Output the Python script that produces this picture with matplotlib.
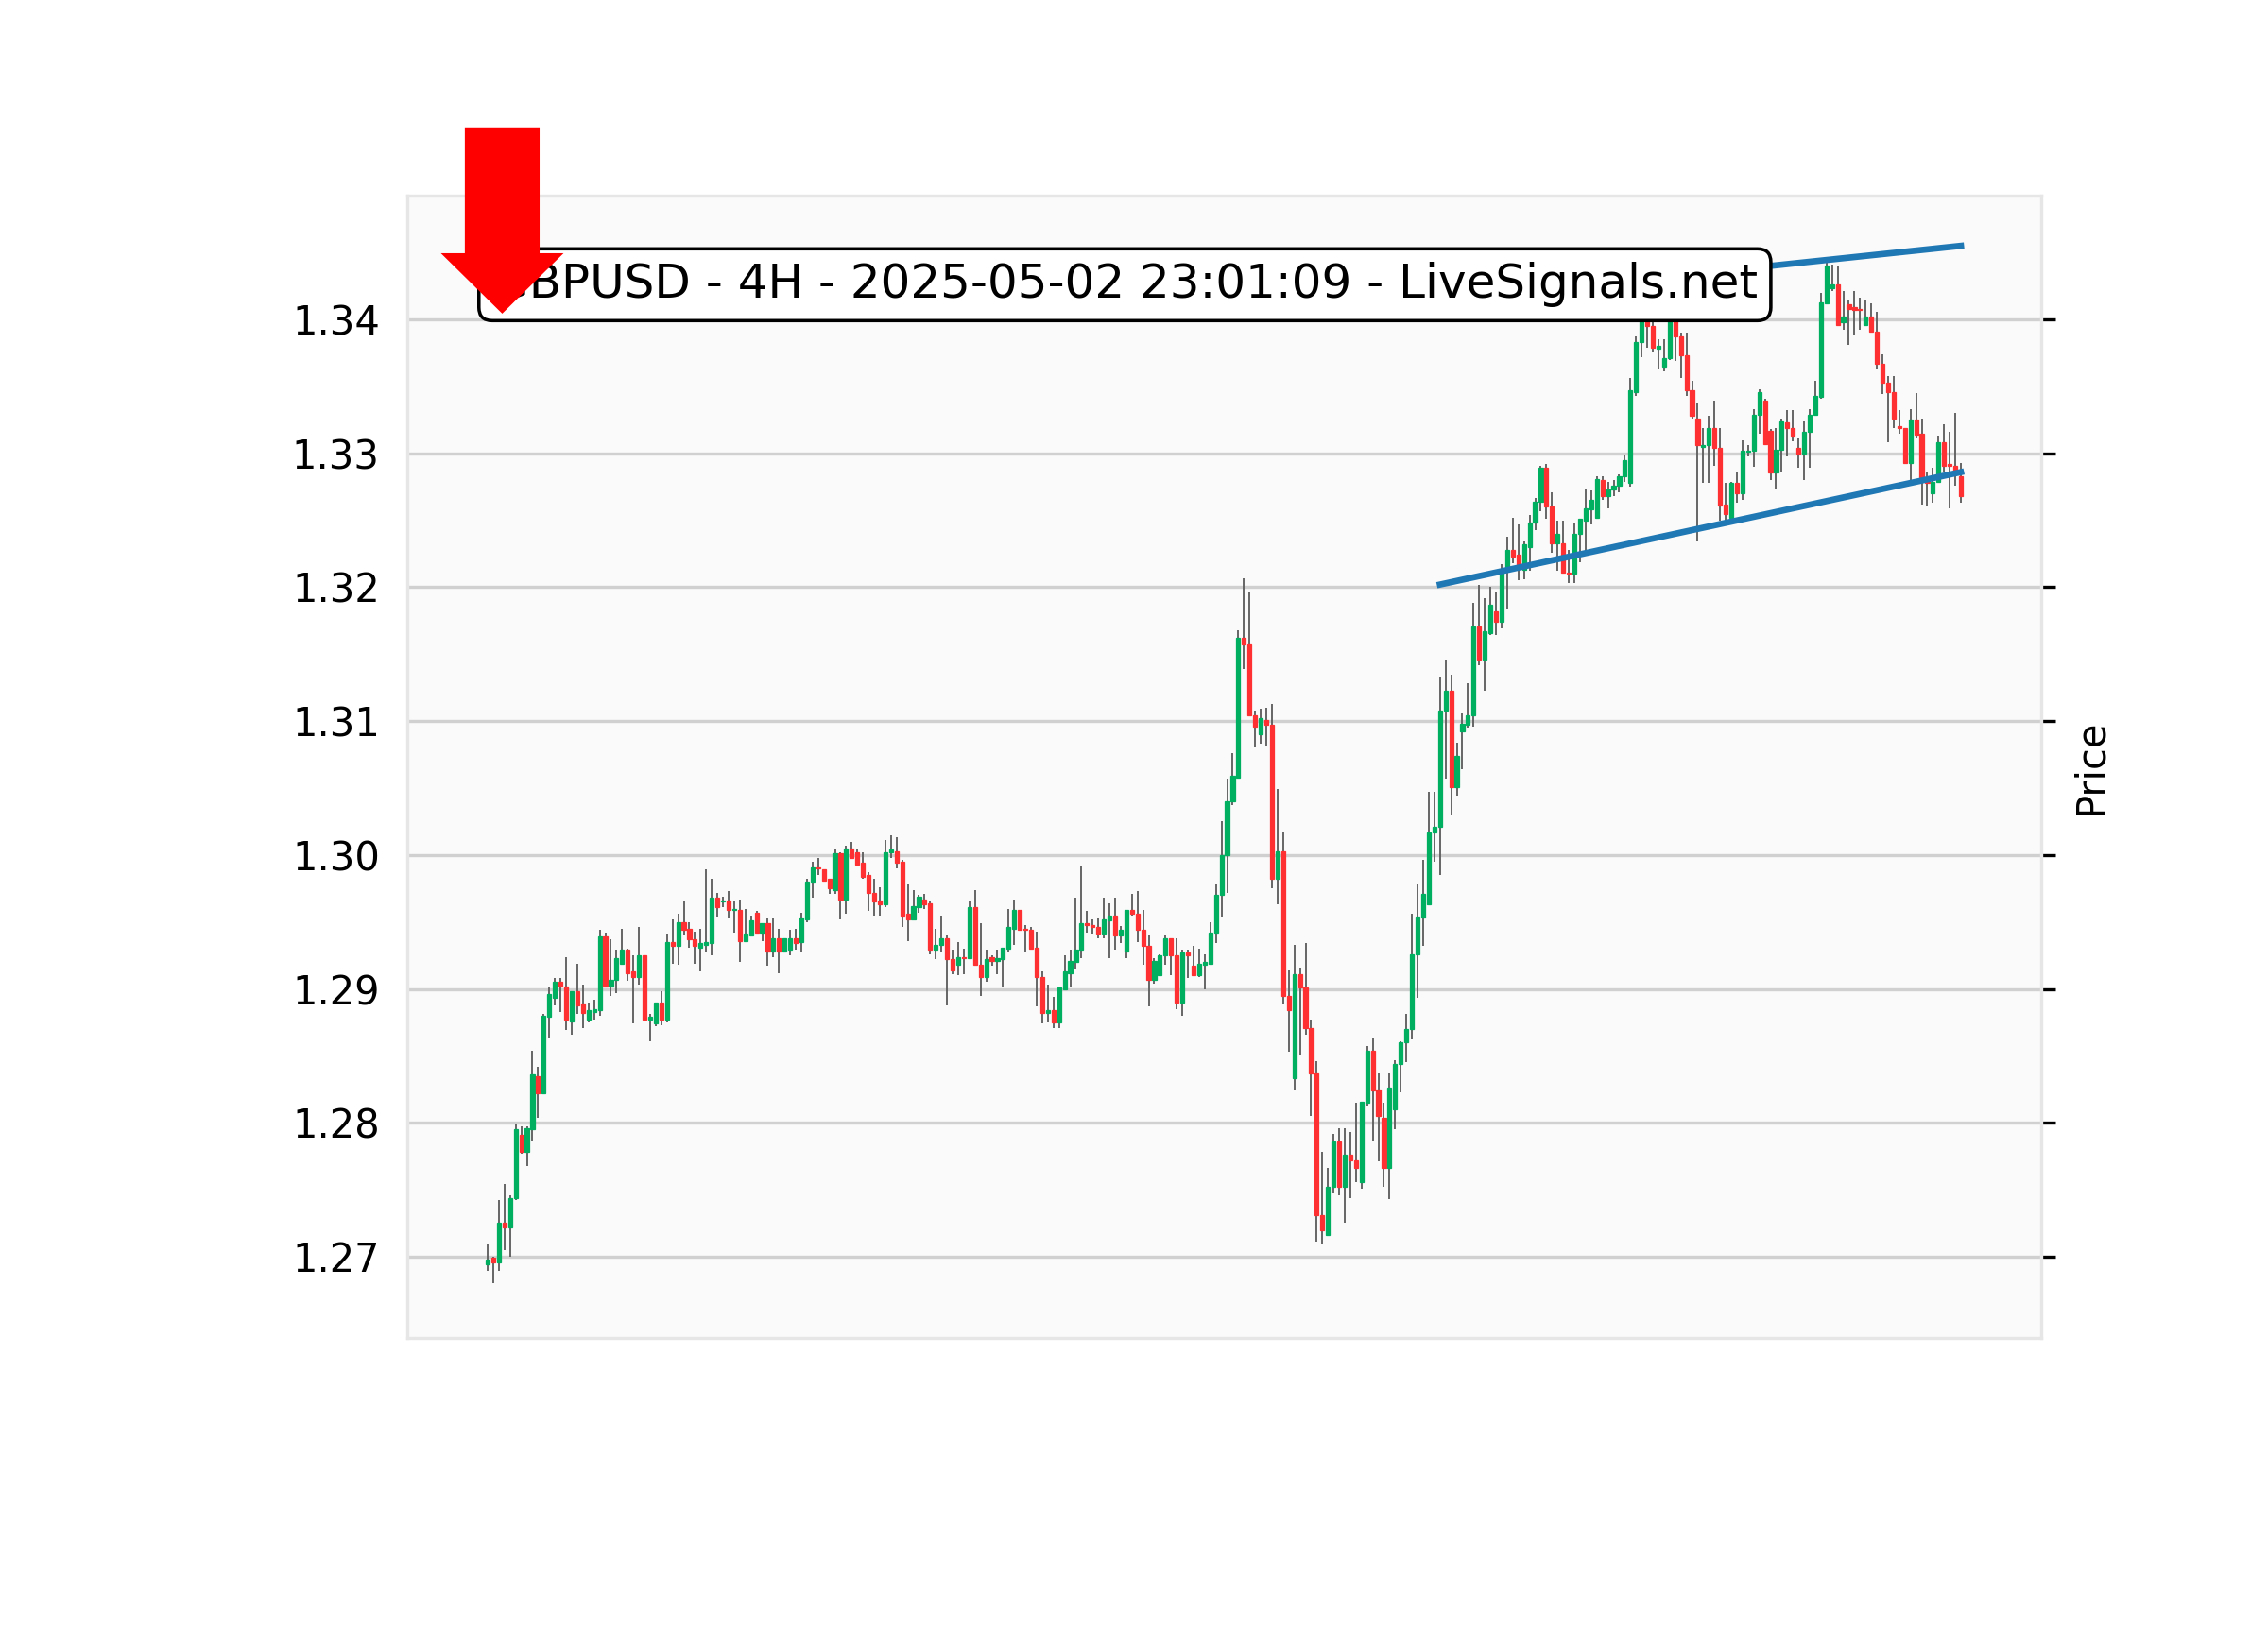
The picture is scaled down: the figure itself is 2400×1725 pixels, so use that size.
import matplotlib
matplotlib.use('Agg')
import matplotlib.pyplot as plt
import numpy as np

# GBPUSD 4H candles
opens = [
    1.2694, 1.2699, 1.2696, 1.2725, 1.2722, 1.2744, 1.2791, 1.2778, 1.2795, 1.2835,
    1.2822, 1.2879, 1.2893, 1.2905, 1.2902, 1.2876, 1.2898, 1.2889, 1.2877, 1.2883,
    1.2884, 1.2939, 1.2902, 1.2907, 1.2919, 1.2929, 1.2913, 1.2909, 1.2925, 1.2877,
    1.2874, 1.2890, 1.2877, 1.2935, 1.2932, 1.2950, 1.2945, 1.2937, 1.2931, 1.2933,
    1.2934, 1.2968, 1.2965, 1.2966, 1.2959, 1.2959, 1.2936, 1.2940, 1.2957, 1.2942,
    1.2949, 1.2928, 1.2938, 1.2928, 1.2929, 1.2938, 1.2935, 1.2952, 1.2980, 1.2991,
    1.2989, 1.2982, 1.2974, 1.3001, 1.2967, 1.3005, 1.3002, 1.2994, 1.2985, 1.2972,
    1.2966, 1.2963, 1.3002, 1.3003, 1.2995, 1.2956, 1.2952, 1.2961, 1.2967, 1.2964,
    1.2929, 1.2933, 1.2938, 1.2922, 1.2918, 1.2924, 1.2923, 1.2961, 1.2918, 1.2909,
    1.2924, 1.2921, 1.2922, 1.2930, 1.2945, 1.2959, 1.2945, 1.2944, 1.2931, 1.2909,
    1.2882, 1.2884, 1.2875, 1.2900, 1.2912, 1.2920, 1.2929, 1.2949, 1.2948, 1.2946,
    1.2941, 1.2951, 1.2955, 1.2940, 1.2928, 1.2959, 1.2956, 1.2944, 1.2932, 1.2907,
    1.2910, 1.2925, 1.2938, 1.2925, 1.2890, 1.2927, 1.2917, 1.2910, 1.2918, 1.2919,
    1.2942, 1.2970, 1.3000, 1.3040, 1.3058, 1.3162, 1.3157, 1.3104, 1.3090, 1.3101,
    1.3097, 1.2982, 1.3003, 1.2895, 1.2833, 1.2911, 1.2901, 1.2871, 1.2837, 1.2731,
    1.2716, 1.2752, 1.2786, 1.2752, 1.2776, 1.2772, 1.2756, 1.2815, 1.2854, 1.2825,
    1.2804, 1.2766, 1.2810, 1.2844, 1.2860, 1.2870, 1.2926, 1.2953, 1.2963, 1.3017,
    1.3021, 1.3108, 1.3123, 1.3051, 1.3092, 1.3097, 1.3104, 1.3171, 1.3146, 1.3166,
    1.3182, 1.3174, 1.3213, 1.3228, 1.3224, 1.3213, 1.3230, 1.3248, 1.3264, 1.3289,
    1.3260, 1.3233, 1.3233, 1.3211, 1.3210, 1.3240, 1.3250, 1.3258, 1.3252, 1.3280,
    1.3268, 1.3273, 1.3276, 1.3283, 1.3278, 1.3346, 1.3383, 1.3410, 1.3395, 1.3378,
    1.3365, 1.3371, 1.3400, 1.3387, 1.3373, 1.3347, 1.3326, 1.3305, 1.3306, 1.3319,
    1.3304, 1.3262, 1.3252, 1.3278, 1.3270, 1.3301, 1.3302, 1.3329, 1.3339, 1.3317,
    1.3286, 1.3303, 1.3323, 1.3319, 1.3304, 1.3300, 1.3316, 1.3329, 1.3342, 1.3412,
    1.3423, 1.3426, 1.3398, 1.3411, 1.3409, 1.3408, 1.3396, 1.3402, 1.3391, 1.3367,
    1.3353, 1.3346, 1.3320, 1.3319, 1.3293, 1.3325, 1.3315, 1.3282, 1.3270, 1.3279,
    1.3308, 1.3292, 1.3291, 1.3283,
]
highs = [
    1.2710, 1.2700, 1.2742, 1.2754, 1.2746, 1.2799, 1.2797, 1.2797, 1.2854, 1.2842,
    1.2881, 1.2901, 1.2908, 1.2908, 1.2924, 1.2898, 1.2919, 1.2903, 1.2890, 1.2892,
    1.2944, 1.2942, 1.2937, 1.2929, 1.2945, 1.2930, 1.2925, 1.2946, 1.2925, 1.2881,
    1.2890, 1.2898, 1.2941, 1.2952, 1.2956, 1.2966, 1.2950, 1.2943, 1.2945, 1.2989,
    1.2982, 1.2972, 1.2969, 1.2973, 1.2966, 1.2967, 1.2960, 1.2955, 1.2958, 1.2949,
    1.2953, 1.2953, 1.2945, 1.2938, 1.2944, 1.2945, 1.2957, 1.2982, 1.2995, 1.2998,
    1.2989, 1.2982, 1.3005, 1.3002, 1.3007, 1.3010, 1.3004, 1.3002, 1.2987, 1.2982,
    1.2976, 1.3011, 1.3015, 1.3013, 1.2996, 1.2979, 1.2974, 1.2970, 1.2971, 1.2966,
    1.2945, 1.2955, 1.2940, 1.2929, 1.2935, 1.2930, 1.2965, 1.2974, 1.2949, 1.2929,
    1.2925, 1.2929, 1.2931, 1.2960, 1.2967, 1.2959, 1.2948, 1.2946, 1.2943, 1.2913,
    1.2903, 1.2894, 1.2902, 1.2925, 1.2929, 1.2968, 1.2992, 1.2958, 1.2952, 1.2953,
    1.2968, 1.2964, 1.2968, 1.2947, 1.2959, 1.2971, 1.2973, 1.2959, 1.2940, 1.2923,
    1.2926, 1.2940, 1.2938, 1.2938, 1.2929, 1.2929, 1.2932, 1.2930, 1.2926, 1.2950,
    1.2978, 1.3025, 1.3057, 1.3076, 1.3168, 1.3207, 1.3196, 1.3108, 1.3109, 1.3110,
    1.3113, 1.3049, 1.3017, 1.2914, 1.2933, 1.2916, 1.2934, 1.2877, 1.2846, 1.2778,
    1.2766, 1.2792, 1.2796, 1.2796, 1.2793, 1.2815, 1.2816, 1.2857, 1.2864, 1.2837,
    1.2815, 1.2837, 1.2847, 1.2861, 1.2881, 1.2956, 1.2978, 1.2996, 1.3047, 1.3047,
    1.3133, 1.3146, 1.3135, 1.3084, 1.3106, 1.3128, 1.3188, 1.3202, 1.3192, 1.3200,
    1.3197, 1.3217, 1.3238, 1.3252, 1.3247, 1.3234, 1.3254, 1.3267, 1.3291, 1.3292,
    1.3271, 1.3250, 1.3250, 1.3228, 1.3248, 1.3251, 1.3273, 1.3272, 1.3283, 1.3283,
    1.3279, 1.3280, 1.3284, 1.3299, 1.3356, 1.3387, 1.3418, 1.3424, 1.3405, 1.3385,
    1.3385, 1.3408, 1.3410, 1.3390, 1.3390, 1.3354, 1.3337, 1.3319, 1.3328, 1.3339,
    1.3319, 1.3278, 1.3279, 1.3286, 1.3310, 1.3306, 1.3333, 1.3348, 1.3341, 1.3318,
    1.3319, 1.3326, 1.3332, 1.3332, 1.3311, 1.3324, 1.3333, 1.3354, 1.3420, 1.3443,
    1.3441, 1.3440, 1.3421, 1.3414, 1.3421, 1.3416, 1.3414, 1.3412, 1.3406, 1.3374,
    1.3358, 1.3358, 1.3332, 1.3319, 1.3333, 1.3345, 1.3326, 1.3286, 1.3289, 1.3313,
    1.3322, 1.3316, 1.3330, 1.3293,
]
lows = [
    1.2689, 1.2680, 1.2689, 1.2705, 1.2700, 1.2742, 1.2777, 1.2768, 1.2787, 1.2804,
    1.2821, 1.2864, 1.2888, 1.2883, 1.2869, 1.2866, 1.2881, 1.2871, 1.2875, 1.2877,
    1.2880, 1.2902, 1.2895, 1.2897, 1.2919, 1.2906, 1.2874, 1.2903, 1.2877, 1.2861,
    1.2872, 1.2873, 1.2875, 1.2919, 1.2918, 1.2940, 1.2931, 1.2919, 1.2913, 1.2928,
    1.2925, 1.2954, 1.2961, 1.2953, 1.2942, 1.2920, 1.2935, 1.2940, 1.2942, 1.2936,
    1.2917, 1.2924, 1.2912, 1.2928, 1.2925, 1.2929, 1.2928, 1.2950, 1.2968, 1.2985,
    1.2981, 1.2971, 1.2971, 1.2952, 1.2956, 1.2997, 1.2992, 1.2982, 1.2958, 1.2955,
    1.2955, 1.2961, 1.2998, 1.2990, 1.2946, 1.2936, 1.2952, 1.2957, 1.2960, 1.2926,
    1.2922, 1.2927, 1.2888, 1.2911, 1.2910, 1.2911, 1.2922, 1.2918, 1.2895, 1.2905,
    1.2917, 1.2911, 1.2902, 1.2928, 1.2933, 1.2944, 1.2928, 1.2930, 1.2887, 1.2874,
    1.2875, 1.2871, 1.2871, 1.2900, 1.2901, 1.2915, 1.2923, 1.2942, 1.2941, 1.2938,
    1.2938, 1.2923, 1.2929, 1.2934, 1.2923, 1.2955, 1.2935, 1.2918, 1.2887, 1.2904,
    1.2910, 1.2918, 1.2910, 1.2885, 1.2880, 1.2908, 1.2910, 1.2909, 1.2900, 1.2919,
    1.2934, 1.2954, 1.2972, 1.3037, 1.3058, 1.3139, 1.3104, 1.3080, 1.3083, 1.3081,
    1.2975, 1.2963, 1.2889, 1.2853, 1.2824, 1.2850, 1.2866, 1.2805, 1.2711, 1.2709,
    1.2716, 1.2747, 1.2746, 1.2725, 1.2744, 1.2756, 1.2751, 1.2813, 1.2787, 1.2771,
    1.2752, 1.2743, 1.2795, 1.2823, 1.2845, 1.2862, 1.2893, 1.2932, 1.2963, 1.2995,
    1.2985, 1.3057, 1.3030, 1.3044, 1.3064, 1.3095, 1.3096, 1.3142, 1.3123, 1.3164,
    1.3164, 1.3169, 1.3184, 1.3218, 1.3205, 1.3206, 1.3212, 1.3243, 1.3257, 1.3251,
    1.3226, 1.3212, 1.3211, 1.3203, 1.3203, 1.3219, 1.3227, 1.3247, 1.3252, 1.3265,
    1.3259, 1.3268, 1.3271, 1.3279, 1.3275, 1.3343, 1.3372, 1.3379, 1.3376, 1.3363,
    1.3361, 1.3370, 1.3369, 1.3356, 1.3343, 1.3326, 1.3234, 1.3278, 1.3278, 1.3291,
    1.3250, 1.3250, 1.3251, 1.3263, 1.3265, 1.3298, 1.3290, 1.3315, 1.3306, 1.3280,
    1.3274, 1.3286, 1.3298, 1.3309, 1.3289, 1.3280, 1.3289, 1.3329, 1.3341, 1.3411,
    1.3421, 1.3395, 1.3392, 1.3381, 1.3388, 1.3392, 1.3396, 1.3390, 1.3363, 1.3344,
    1.3308, 1.3319, 1.3315, 1.3293, 1.3280, 1.3312, 1.3262, 1.3260, 1.3263, 1.3278,
    1.3286, 1.3259, 1.3276, 1.3263,
]
closes = [
    1.2698, 1.2696, 1.2725, 1.2722, 1.2744, 1.2795, 1.2778, 1.2796, 1.2836, 1.2822,
    1.2880, 1.2896, 1.2905, 1.2902, 1.2877, 1.2898, 1.2888, 1.2882, 1.2884, 1.2885,
    1.2939, 1.2902, 1.2907, 1.2923, 1.2929, 1.2912, 1.2909, 1.2925, 1.2877, 1.2879,
    1.2890, 1.2877, 1.2935, 1.2932, 1.2950, 1.2944, 1.2937, 1.2932, 1.2934, 1.2935,
    1.2968, 1.2961, 1.2966, 1.2959, 1.2960, 1.2936, 1.2941, 1.2951, 1.2942, 1.2949,
    1.2928, 1.2938, 1.2928, 1.2938, 1.2938, 1.2934, 1.2953, 1.2980, 1.2991, 1.2990,
    1.2981, 1.2975, 1.3001, 1.2967, 1.3005, 1.2998, 1.2993, 1.2984, 1.2972, 1.2965,
    1.2963, 1.3002, 1.3004, 1.2994, 1.2955, 1.2952, 1.2962, 1.2969, 1.2963, 1.2929,
    1.2933, 1.2938, 1.2922, 1.2914, 1.2924, 1.2923, 1.2961, 1.2918, 1.2909, 1.2922,
    1.2921, 1.2923, 1.2931, 1.2946, 1.2959, 1.2944, 1.2944, 1.2930, 1.2909, 1.2882,
    1.2884, 1.2875, 1.2901, 1.2913, 1.2921, 1.2929, 1.2949, 1.2948, 1.2946, 1.2941,
    1.2952, 1.2955, 1.2940, 1.2944, 1.2959, 1.2956, 1.2944, 1.2932, 1.2907, 1.2921,
    1.2925, 1.2938, 1.2925, 1.2890, 1.2927, 1.2925, 1.2910, 1.2919, 1.2920, 1.2942,
    1.2970, 1.3000, 1.3040, 1.3059, 1.3162, 1.3157, 1.3104, 1.3096, 1.3102, 1.3097,
    1.2982, 1.3003, 1.2895, 1.2884, 1.2911, 1.2901, 1.2871, 1.2837, 1.2731, 1.2720,
    1.2752, 1.2786, 1.2752, 1.2776, 1.2772, 1.2766, 1.2816, 1.2854, 1.2824, 1.2805,
    1.2766, 1.2826, 1.2844, 1.2860, 1.2870, 1.2926, 1.2954, 1.2971, 1.3017, 1.3021,
    1.3108, 1.3123, 1.3051, 1.3074, 1.3098, 1.3104, 1.3171, 1.3146, 1.3167, 1.3187,
    1.3174, 1.3213, 1.3228, 1.3223, 1.3214, 1.3232, 1.3248, 1.3264, 1.3289, 1.3260,
    1.3233, 1.3240, 1.3211, 1.3210, 1.3240, 1.3251, 1.3259, 1.3265, 1.3281, 1.3268,
    1.3273, 1.3276, 1.3283, 1.3295, 1.3347, 1.3383, 1.3410, 1.3395, 1.3379, 1.3380,
    1.3371, 1.3400, 1.3387, 1.3373, 1.3347, 1.3328, 1.3306, 1.3306, 1.3319, 1.3304,
    1.3261, 1.3255, 1.3278, 1.3270, 1.3302, 1.3302, 1.3329, 1.3346, 1.3307, 1.3286,
    1.3303, 1.3324, 1.3319, 1.3313, 1.3300, 1.3316, 1.3329, 1.3343, 1.3413, 1.3440,
    1.3426, 1.3396, 1.3402, 1.3408, 1.3407, 1.3407, 1.3402, 1.3391, 1.3367, 1.3353,
    1.3346, 1.3326, 1.3319, 1.3293, 1.3325, 1.3314, 1.3282, 1.3278, 1.3279, 1.3308,
    1.3291, 1.3291, 1.3287, 1.3268,
]

yticks = [1.27, 1.28, 1.29, 1.30, 1.31, 1.32, 1.33, 1.34]
title = 'GBPUSD - 4H - 2025-05-02 23:01:09 - LiveSignals.net'

# trend lines (bar index, price)
support_x = [170, 263]
support_y = [1.3202, 1.3286]
resist_x = [170, 263]
resist_y = [1.3414, 1.3455]

# signal arrow near the first bars
arrow_bar = 2.6
arrow_top = 1.3542
arrow_tip = 1.34064

o = np.array(opens)
h = np.array(highs)
l = np.array(lows)
c = np.array(closes)
x = np.arange(len(o))

up_col = '#00b060'
dn_col = '#fe3032'
colors = np.where(c >= o, up_col, dn_col)

fig = plt.figure(figsize=(8, 5.75), dpi=300)
ax = fig.add_axes([0.1796, 0.1791, 0.7204, 0.7009])
ax.set_facecolor('#fafafa')

# wicks then bodies
ax.vlines(x, l, h, color='#606060', linewidth=0.45, zorder=2)
ax.bar(x, c - o, bottom=o, width=0.7, color=colors, edgecolor=colors,
       linewidth=0.3, zorder=3)

ax.plot(support_x, support_y, color='#1f77b4', linewidth=1.6, zorder=4)
ax.plot(resist_x, resist_y, color='#1f77b4', linewidth=1.6, zorder=4)

ax.text(0.0519, 0.922, title, transform=ax.transAxes, fontsize=12,
        ha='left', va='center', zorder=5,
        bbox=dict(boxstyle='round,pad=0.28', fc='white', ec='black', lw=0.85))

ax.arrow(arrow_bar, arrow_top, 0, arrow_tip - arrow_top, width=12.65,
         head_width=20.2, head_length=0.00416, length_includes_head=True,
         color='red', clip_on=False, zorder=6)

ax.set_xlim(-14.34, 277.33)
ax.set_ylim(1.26392, 1.34925)
ax.set_xticks([])
ax.set_yticks(yticks)
ax.set_yticklabels(['%.2f' % v for v in yticks])
ax.tick_params(axis='y', left=False, right=True, labelleft=True,
               labelright=False, labelsize=10, length=3.5, width=0.8)

ax.yaxis.grid(True, color='#d0d0d0', linewidth=0.8)
ax.set_axisbelow(True)
for s in ax.spines.values():
    s.set_color('#e6e6e6')
    s.set_linewidth(0.8)

ax.set_ylabel('Price', fontsize=10, labelpad=4)
ax.yaxis.set_label_position('right')

fig.savefig('out.png', dpi=300, facecolor='white')
